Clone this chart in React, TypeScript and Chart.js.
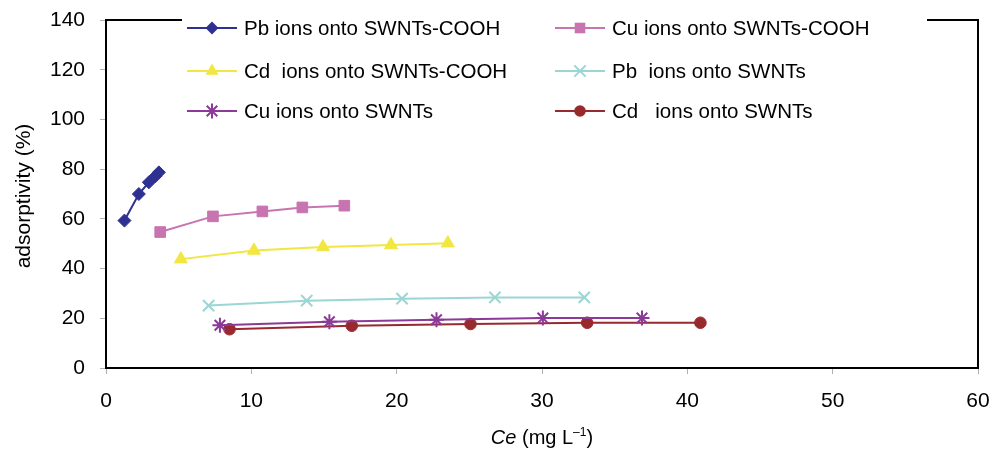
import React, { useEffect, useRef } from "react";
import { Chart, registerables } from "chart.js";

Chart.register(...registerables);

const seriesNames = [
  "Pb ions onto SWNTs-COOH",
  "Cu ions onto SWNTs-COOH",
  "Cd  ions onto SWNTs-COOH",
  "Pb  ions onto SWNTs",
  "Cu ions onto SWNTs",
  "Cd   ions onto SWNTs",
];

const pbCoohX = [1.27, 2.26, 2.95, 3.41, 3.64];
const pbCoohY = [59.3, 70.0, 74.7, 77.2, 78.7];
const cuCoohX = [3.73, 7.36, 10.76, 13.51, 16.4];
const cuCoohY = [54.7, 61.0, 63.0, 64.6, 65.3];
const cdCoohX = [5.15, 10.18, 14.93, 19.61, 23.52];
const cdCoohY = [43.8, 47.3, 48.7, 49.5, 50.2];
const pbSwntX = [7.06, 13.81, 20.37, 26.76, 32.91];
const pbSwntY = [25.1, 27.1, 27.9, 28.4, 28.4];
const cuSwntX = [7.84, 15.37, 22.74, 30.06, 36.88];
const cuSwntY = [17.2, 18.6, 19.4, 20.1, 20.1];
const cdSwntX = [8.5, 16.91, 25.08, 33.11, 40.9];
const cdSwntY = [15.6, 17.0, 17.7, 18.2, 18.2];

const xTicks = [0, 10, 20, 30, 40, 50, 60];
const yTicks = [0, 20, 40, 60, 80, 100, 120, 140];

const colors = ["#2E3192", "#C774B0", "#F2E640", "#9AD6D4", "#8B3A97", "#982A2E"];
const styles = ["rectRot", "rect", "triangle", "crossRot", "star", "circle"];
const radii = [6.5, 7.5, 7.5, 8, 7.5, 5.8];

const xs = [pbCoohX, cuCoohX, cdCoohX, pbSwntX, cuSwntX, cdSwntX];
const ys = [pbCoohY, cuCoohY, cdCoohY, pbSwntY, cuSwntY, cdSwntY];

const FONT = "'Liberation Sans', Arial, sans-serif";

function drawMarker(ctx: CanvasRenderingContext2D, style: string, x: number, y: number, r: number, color: string) {
  ctx.save();
  ctx.fillStyle = color;
  ctx.strokeStyle = color;
  ctx.lineWidth = 2;
  ctx.beginPath();
  const d = r * Math.SQRT1_2;
  if (style === "rectRot") {
    ctx.moveTo(x, y - r); ctx.lineTo(x + r, y); ctx.lineTo(x, y + r); ctx.lineTo(x - r, y); ctx.closePath(); ctx.fill();
  } else if (style === "rect") {
    ctx.rect(x - d, y - d, 2 * d, 2 * d); ctx.fill();
  } else if (style === "triangle") {
    ctx.moveTo(x, y - r); ctx.lineTo(x + r * 0.87, y + r * 0.5); ctx.lineTo(x - r * 0.87, y + r * 0.5); ctx.closePath(); ctx.fill();
  } else if (style === "crossRot") {
    ctx.moveTo(x - d, y - d); ctx.lineTo(x + d, y + d); ctx.moveTo(x + d, y - d); ctx.lineTo(x - d, y + d); ctx.stroke();
  } else if (style === "star") {
    ctx.moveTo(x - d, y - d); ctx.lineTo(x + d, y + d); ctx.moveTo(x + d, y - d); ctx.lineTo(x - d, y + d);
    ctx.moveTo(x, y - r); ctx.lineTo(x, y + r); ctx.moveTo(x - r, y); ctx.lineTo(x + r, y); ctx.stroke();
  } else {
    ctx.arc(x, y, r, 0, Math.PI * 2); ctx.fill();
  }
  ctx.restore();
}

const framePlugin = {
  id: "frameLegend",
  afterDraw(chart: any) {
    const { ctx, chartArea } = chart;
    const { left, right, top, bottom } = chartArea;
    ctx.save();
    ctx.strokeStyle = "#000";
    ctx.lineWidth = 2;
    ctx.beginPath();
    ctx.moveTo(left, top);
    ctx.lineTo(right, top);
    ctx.lineTo(right, bottom);
    ctx.stroke();
    // legend box (white, covering the frame)
    ctx.fillStyle = "#fff";
    ctx.fillRect(182, 8, 745, 115);
    const colX = [187, 555];
    const rowY = [28, 71, 111];
    ctx.font = `20.5px ${FONT}`;
    ctx.textBaseline = "middle";
    for (let i = 0; i < seriesNames.length; i++) {
      const cx = colX[i % 2];
      const cy = rowY[Math.floor(i / 2)];
      ctx.strokeStyle = colors[i];
      ctx.lineWidth = 2;
      ctx.beginPath();
      ctx.moveTo(cx, cy);
      ctx.lineTo(cx + 50, cy);
      ctx.stroke();
      drawMarker(ctx, styles[i], cx + 25, cy, radii[i], colors[i]);
      ctx.fillStyle = "#000";
      ctx.textAlign = "left";
      ctx.fillText(seriesNames[i], cx + 57, cy + 1);
    }
    // y axis title
    ctx.save();
    ctx.translate(24, 196);
    ctx.rotate(-Math.PI / 2);
    ctx.font = `21px ${FONT}`;
    ctx.textAlign = "center";
    ctx.textBaseline = "middle";
    ctx.fillStyle = "#000";
    ctx.fillText("adsorptivity (%)", 0, 0);
    ctx.restore();
    // x axis title
    const ty = 444;
    ctx.fillStyle = "#000";
    ctx.textBaseline = "alphabetic";
    const p1 = "Ce";
    const p2 = " (mg L";
    const p3 = "\u20131";
    const p4 = ")";
    ctx.font = `italic 20px ${FONT}`;
    const w1 = ctx.measureText(p1).width;
    ctx.font = `20px ${FONT}`;
    const w2 = ctx.measureText(p2).width;
    const w4 = ctx.measureText(p4).width;
    ctx.font = `12px ${FONT}`;
    const w3 = ctx.measureText(p3).width;
    let x = (left + right) / 2 - (w1 + w2 + w3 + w4) / 2;
    ctx.textAlign = "left";
    ctx.font = `italic 20px ${FONT}`;
    ctx.fillText(p1, x, ty);
    x += w1;
    ctx.font = `20px ${FONT}`;
    ctx.fillText(p2, x, ty);
    x += w2;
    ctx.font = `12px ${FONT}`;
    ctx.fillText(p3, x, ty - 8);
    x += w3;
    ctx.font = `20px ${FONT}`;
    ctx.fillText(p4, x, ty);
    ctx.restore();
  },
};

export default function App() {
  const ref = useRef<HTMLCanvasElement>(null);
  useEffect(() => {
    document.body.style.margin = "0";
    const datasets = seriesNames.map((name, i) => ({
      label: name,
      data: xs[i].map((x, j) => ({ x, y: ys[i][j] })),
      borderColor: colors[i],
      backgroundColor: colors[i],
      borderWidth: 2,
      pointStyle: styles[i] as any,
      pointRadius: radii[i],
      pointBorderWidth: styles[i] === "crossRot" || styles[i] === "star" ? 2 : 1,
      showLine: true,
      tension: 0,
    }));
    const chart = new Chart(ref.current!, {
      type: "scatter",
      data: { datasets },
      plugins: [framePlugin],
      options: {
        animation: false,
        responsive: false,
        maintainAspectRatio: false,
        layout: { padding: { top: 20, right: 14, left: 0, bottom: 0 } },
        plugins: { legend: { display: false }, tooltip: { enabled: false } },
        scales: {
          x: {
            type: "linear",
            min: 0,
            max: 60,
            afterFit: (s: any) => { s.height = 86; s.paddingLeft = 0; s.paddingRight = 0; },
            afterBuildTicks: (s: any) => { s.ticks = xTicks.map((v) => ({ value: v })); },
            ticks: { color: "#000", font: { family: FONT, size: 21 }, padding: 15 },
            grid: { drawOnChartArea: false, drawTicks: true, tickLength: 6, color: "#b0b0b0", lineWidth: 1 },
            border: { color: "#000", width: 2 },
          },
          y: {
            type: "linear",
            min: 0,
            max: 140,
            afterFit: (s: any) => { s.width = 106; s.paddingTop = 0; s.paddingBottom = 0; },
            afterBuildTicks: (s: any) => { s.ticks = yTicks.map((v) => ({ value: v })); },
            ticks: { color: "#000", font: { family: FONT, size: 21 }, padding: 15 },
            grid: { drawOnChartArea: false, drawTicks: true, tickLength: 6, color: "#b0b0b0", lineWidth: 1 },
            border: { color: "#000", width: 2 },
          },
        },
      },
    });
    return () => chart.destroy();
  }, []);
  return <canvas ref={ref} width={992} height={454} style={{ display: "block" }} />;
}
